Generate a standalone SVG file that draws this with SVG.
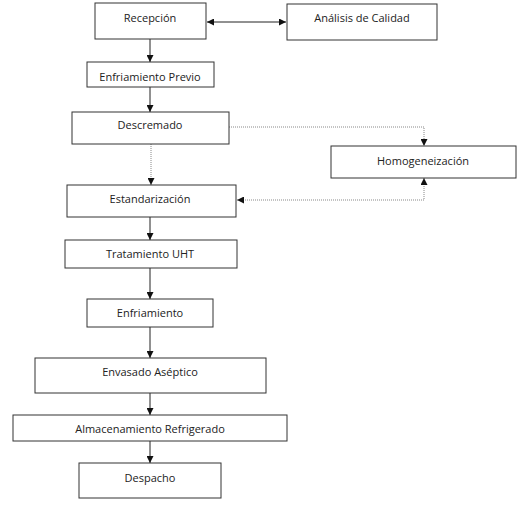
<svg xmlns="http://www.w3.org/2000/svg" width="520" height="506" viewBox="0 0 520 506">
<style>
.box{fill:#fff;stroke:#333;stroke-width:1}
.t{font-family:"Open Sans","Liberation Sans",sans-serif;font-size:11px;fill:#222;text-anchor:middle}
.c{fill:none;stroke:#222;stroke-width:1}
.d{fill:none;stroke:#888;stroke-width:1;stroke-dasharray:1,1}
</style>
<defs>
<marker id="ah" viewBox="0 0 10 10" refX="10" refY="5" markerWidth="7" markerHeight="7" markerUnits="userSpaceOnUse" orient="auto-start-reverse">
<path d="M0,0L10,5L0,10z" fill="#111"/>
</marker>
</defs>
<rect width="520" height="506" fill="#fff"/>
<g id="connectors">
<line class="c" x1="207" y1="22" x2="286" y2="22" marker-start="url(#ah)" marker-end="url(#ah)"/>
<line class="c" x1="150" y1="39" x2="150" y2="62" marker-end="url(#ah)"/>
<line class="c" x1="150" y1="87" x2="150" y2="112" marker-end="url(#ah)"/>
<polyline class="d" points="229,127 424,127 424,146" marker-end="url(#ah)"/>
<line class="d" x1="151" y1="144" x2="151" y2="185" marker-end="url(#ah)"/>
<polyline class="d" points="237,200 424,200 424,178" marker-start="url(#ah)" marker-end="url(#ah)"/>
<line class="c" x1="150" y1="217" x2="150" y2="240" marker-end="url(#ah)"/>
<line class="c" x1="150" y1="268" x2="150" y2="299" marker-end="url(#ah)"/>
<line class="c" x1="150" y1="327" x2="150" y2="358" marker-end="url(#ah)"/>
<line class="c" x1="150" y1="393" x2="150" y2="415" marker-end="url(#ah)"/>
<line class="c" x1="150" y1="441" x2="150" y2="463" marker-end="url(#ah)"/>
</g>
<g id="recepcion"><rect class="box" x="95" y="3" width="111" height="36"/><text class="t" x="150" y="22">Recepción</text></g>
<g id="analisis"><rect class="box" x="287" y="4" width="150" height="36"/><text class="t" x="362" y="22">Análisis de Calidad</text></g>
<g id="enfriamiento-previo"><rect class="box" x="87" y="62" width="127" height="25"/><text class="t" x="150" y="81">Enfriamiento Previo</text></g>
<g id="descremado"><rect class="box" x="72" y="112" width="157" height="32"/><text class="t" x="150" y="129">Descremado</text></g>
<g id="homogeneizacion"><rect class="box" x="331" y="146" width="185" height="32"/><text class="t" x="423" y="165">Homogeneización</text></g>
<g id="estandarizacion"><rect class="box" x="67" y="185" width="169" height="32"/><text class="t" x="150" y="203">Estandarización</text></g>
<g id="uht"><rect class="box" x="65" y="240" width="172" height="28"/><text class="t" x="150" y="258">Tratamiento UHT</text></g>
<g id="enfriamiento"><rect class="box" x="87" y="299" width="126" height="28"/><text class="t" x="150" y="317">Enfriamiento</text></g>
<g id="envasado"><rect class="box" x="35" y="358" width="231" height="35"/><text class="t" x="150" y="376">Envasado Aséptico</text></g>
<g id="almacenamiento"><rect class="box" x="13" y="415" width="274" height="26"/><text class="t" x="150" y="433">Almacenamiento Refrigerado</text></g>
<g id="despacho"><rect class="box" x="79" y="463" width="142" height="35"/><text class="t" x="150" y="482">Despacho</text></g>
</svg>
